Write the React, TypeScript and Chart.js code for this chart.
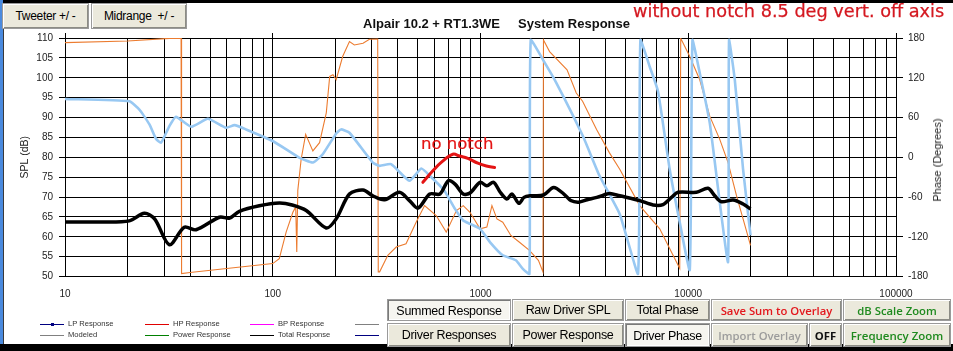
import React, { useEffect, useRef } from 'react';
import { Chart, registerables } from 'chart.js';

Chart.register(...registerables);

// ---------- data ----------
const decadeLabels = [10, 100, 1000, 10000, 100000];
const minorMultipliers = [1, 2, 3, 4, 5, 6, 7, 8, 9];

// Total (summed) response, SPL dB
const totalFreq = [10, 15, 20.4, 24.1, 27, 31.8, 37.5, 42.7, 55.4, 62, 69.1, 86.2, 107.5, 124, 145, 181, 202, 234, 272, 303, 345, 407, 455, 500, 570, 638, 700, 754, 826, 890, 995, 1073, 1155, 1245, 1340, 1418, 1530, 1620, 1740, 2010, 2250, 2520, 2720, 2970, 3260, 3630, 4060, 4190, 4680, 5840, 6770, 7560, 8300, 8930, 10950, 12450, 13420, 14450, 16440, 18360, 19940];
const totalSpl = [63.7, 63.7, 64.0, 65.9, 64.5, 58.0, 62.4, 61.75, 64.9, 64.7, 66.4, 67.8, 68.5, 68.0, 66.6, 62.2, 64.5, 70.75, 71.75, 70.3, 69.3, 71.2, 69.1, 67.2, 70.75, 70.75, 74.1, 73.25, 70.75, 71.0, 73.7, 72.8, 73.7, 71.2, 69.5, 70.75, 68.4, 69.9, 70.3, 70.5, 72.4, 70.75, 69.1, 68.7, 69.3, 69.9, 70.75, 70.9, 70.3, 69.1, 68.0, 68.1, 69.9, 71.2, 71.2, 72.2, 70.3, 68.8, 69.25, 68.25, 67.0];

// Light blue phase trace, degrees
const bluePhaseFreq = [10, 20.4, 22.8, 25.5, 27.4, 29, 31.8, 34.2, 40.5, 48.7, 59.6, 65.5, 74.4, 100, 134, 156, 174, 202, 213, 234, 303, 327, 371, 455, 519, 570, 670, 754, 826, 890, 995, 1110, 1280, 1480, 1595, 1720, 1745, 2000, 2320, 3110, 3740, 4680, 5730, 5885, 6520, 7150, 8140, 9100, 10170, 10480, 11360, 12690, 14180, 15550, 15720, 16750, 18360, 19940];
const bluePhase = [88, 84.5, 72, 49.5, 28, 22, 47, 61, 46, 58, 44.5, 48.5, 42, 24.5, -0.5, -8, 4.5, 36, 42, 37, -8, -13, -10.5, -35.5, -17, -28, -50.5, -78, -95.5, -100.5, -108, -128, -148, -155.5, -168, -176, 177, 147, 112, 32, -28, -86, -176, 177, 137, 99.5, -18, -98, -170, 177, 127, 52, -68, -158, 177, 117, -18, -118];

// Orange phase trace, degrees
const orangePhaseFreq = [10, 20, 31.8, 36.2, 36.4, 40, 60, 100, 107.5, 116, 125, 129, 130.5, 132, 137, 144, 156, 168, 181, 188, 195, 202, 217, 234, 247, 272, 292, 320, 322, 327, 358, 393, 438, 490, 538, 612, 684, 766, 826, 890, 995, 1073, 1135, 1200, 1280, 1400, 1535, 1720, 1900, 1998, 2010, 2150, 2610, 2890, 3100, 3620, 4170, 4680, 5840, 7290, 8450, 9100, 9200, 10170, 11360, 12690, 14180, 15550, 17070, 18360, 19940];
const orangePhase = [173, 175.5, 179.5, 179.8, -175.5, -174, -168, -160.5, -153, -113, -83, -75, -143, -50, -3, 34.5, 9.5, 22, 67, 122, 124.5, 117, 152, 174.5, 169.5, 172, 178, 178.5, -173, -173, -148, -135.5, -130.5, -98, -73, -88, -113, -80.5, -73, -83, -108, -105.5, -73, -93, -98, -118, -128, -140.5, -155.5, -173, 177, 159.5, 132, 97, 84.5, 42, 7, -18, -73, -108, -148, -168, 179.5, 152, 117, 62, 27, -8, -58, -93, -133];

// Hand drawn "no notch" curve, SPL dB
const noNotchFreq = [528, 590, 647, 736, 793, 869, 971, 1067, 1169];
const noNotchSpl = [73.7, 76.6, 78.7, 80.75, 80.3, 79.7, 78.5, 77.8, 77.4];

const splRange = [50, 110];
const splStep = 5;
const phaseRange = [-180, 180];
const phaseStep = 60;

const legendRow1 = [
  { label: 'LP Response', color: '#000080', dot: true },
  { label: 'HP Response', color: '#e00000' },
  { label: 'BP Response', color: '#ff00ff' },
  { label: '', color: '#808080' },
];
const legendRow2 = [
  { label: 'Modeled', color: '#808080' },
  { label: 'Power Response', color: '#008000' },
  { label: 'Total Response', color: '#000000' },
  { label: '', color: '#000080' },
];

// ---------- helpers ----------
const pairs = (xs: number[], ys: number[]) => xs.map((x, i) => ({ x, y: ys[i] }));
const gridValues: number[] = [];
decadeLabels.slice(0, 4).forEach((d) => minorMultipliers.forEach((m) => gridValues.push(d * m)));
gridValues.push(decadeLabels[4]);

const W = 953;
const H = 351;
const PLOT_LEFT = 65;
const PLOT_RIGHT = 896;
const PLOT_TOP = 38;
const PLOT_BOTTOM = 276.5;

const decadeTopTicks = {
  id: 'decadeTopTicks',
  afterDraw(chart: any) {
    const { ctx, chartArea, scales } = chart;
    ctx.save();
    ctx.strokeStyle = '#000';
    ctx.lineWidth = 1;
    decadeLabels.forEach((v) => {
      const px = Math.round(scales.x.getPixelForValue(v) - 0.5) + 0.5;
      ctx.beginPath();
      ctx.moveTo(px, chartArea.top - 5);
      ctx.lineTo(px, chartArea.top);
      ctx.stroke();
    });
    ctx.restore();
  },
};

const btnFont = '"Liberation Sans", Arial, sans-serif';
const uiFont = '"Open Sans", "DejaVu Sans", sans-serif';

function Btn(props: { x: number; y: number; w: number; h: number; text: string; pressed?: boolean; color?: string; font?: string; size?: number; weight?: number; spacing?: number }) {
  const { x, y, w, h, text, pressed, color, font, size, weight, spacing } = props;
  return (
    <div
      style={{
        position: 'absolute',
        left: x,
        top: y,
        width: w,
        height: h,
        boxSizing: 'border-box',
        background: pressed ? '#f6f5f0' : '#ebe9dc',
        border: '1px solid #9a9a9a',
        boxShadow: pressed
          ? 'inset 1px 1px 0 #7a7a7a, inset -1px -1px 0 #ffffff'
          : 'inset 1px 1px 0 #ffffff, inset -1px -1px 0 #8c8c84',
        display: 'flex',
        alignItems: 'center',
        justifyContent: 'center',
        fontFamily: font || btnFont,
        fontSize: size || 12.5,
        fontWeight: weight || 400,
        letterSpacing: spacing ?? -0.3,
        color: color || '#000',
        whiteSpace: 'pre',
        paddingTop: pressed ? 2 : 0,
      }}
    >
      {text}
    </div>
  );
}

function LegendItem(props: { x: number; y: number; label: string; color: string; dot?: boolean }) {
  const { x, y, label, color, dot } = props;
  return (
    <>
      <div style={{ position: 'absolute', left: x, top: y, width: 24, height: 1, background: color }} />
      {dot ? <div style={{ position: 'absolute', left: x + 11, top: y - 1, width: 3, height: 3, background: color }} /> : null}
      {label ? (
        <div
          style={{
            position: 'absolute',
            left: x + 28,
            top: y - 4.5,
            height: 10,
            lineHeight: '10px',
            fontFamily: btnFont,
            fontSize: 7.6,
            color: '#333',
            whiteSpace: 'nowrap',
          }}
        >
          {label}
        </div>
      ) : null}
    </>
  );
}

export default function App() {
  const canvasRef = useRef<HTMLCanvasElement | null>(null);

  useEffect(() => {
    document.body.style.margin = '0';
    const canvas = canvasRef.current;
    if (!canvas) return;
    Chart.defaults.font.family = '"Liberation Sans", Arial, sans-serif';
    const tickFont = { family: '"Liberation Sans", Arial, sans-serif', size: 10 };
    const chart = new Chart(canvas, {
      type: 'line',
      data: {
        datasets: [
          {
            label: 'no notch',
            data: pairs(noNotchFreq, noNotchSpl),
            borderColor: '#e41414',
            borderWidth: 3,
            yAxisID: 'spl',
            tension: 0.4,
            pointRadius: 0,
            borderCapStyle: 'round',
          },
          {
            label: 'Total Response',
            data: pairs(totalFreq, totalSpl),
            borderColor: '#000000',
            borderWidth: 3.5,
            yAxisID: 'spl',
            tension: 0.3,
            pointRadius: 0,
          },
          {
            label: 'Phase 1',
            data: pairs(bluePhaseFreq, bluePhase),
            borderColor: '#98c8f2',
            borderWidth: 2.6,
            yAxisID: 'phase',
            tension: 0.15,
            pointRadius: 0,
          },
          {
            label: 'Phase 2',
            data: pairs(orangePhaseFreq, orangePhase),
            borderColor: '#ec7c30',
            borderWidth: 1.1,
            yAxisID: 'phase',
            tension: 0,
            pointRadius: 0,
          },
        ],
      },
      options: {
        responsive: false,
        animation: false,
        devicePixelRatio: 1,
        layout: { padding: { left: 0, right: 0, top: PLOT_TOP, bottom: 0 } },
        plugins: { legend: { display: false }, tooltip: { enabled: false }, title: { display: false } },
        scales: {
          x: {
            type: 'logarithmic',
            position: 'bottom',
            min: decadeLabels[0],
            max: decadeLabels[decadeLabels.length - 1],
            afterBuildTicks: (s: any) => {
              s.ticks = gridValues.map((v) => ({ value: v }));
            },
            afterFit: (s: any) => {
              s.height = H - PLOT_BOTTOM;
            },
            grid: { color: '#000', lineWidth: 1, drawTicks: false },
            border: { display: false },
            ticks: {
              autoSkip: false,
              maxRotation: 0,
              minRotation: 0,
              padding: 11.5,
              color: '#222',
              font: tickFont,
              callback: (v: any) => (decadeLabels.includes(Number(v)) ? String(v) : ''),
            },
          },
          spl: {
            type: 'linear',
            position: 'left',
            min: splRange[0],
            max: splRange[1],
            afterFit: (s: any) => {
              s.width = PLOT_LEFT;
            },
            ticks: { stepSize: splStep, padding: 6, color: '#222', font: tickFont },
            grid: { color: '#000', lineWidth: 1, tickLength: 6 },
            border: { color: '#000', width: 1 },
            title: {
              display: true,
              text: 'SPL (dB)',
              color: '#222',
              font: { family: '"Liberation Sans", Arial, sans-serif', size: 10.5 },
              padding: { top: 19, bottom: 0 },
            },
          },
          phase: {
            type: 'linear',
            position: 'right',
            min: phaseRange[0],
            max: phaseRange[1],
            afterFit: (s: any) => {
              s.width = W - PLOT_RIGHT;
            },
            ticks: { stepSize: phaseStep, padding: 5, color: '#222', font: tickFont },
            grid: { drawOnChartArea: false, color: '#000', lineWidth: 1, tickLength: 7 },
            border: { color: '#000', width: 1 },
          },
        },
      } as any,
      plugins: [decadeTopTicks],
    });
    return () => chart.destroy();
  }, []);

  return (
    <div style={{ position: 'absolute', left: 0, top: 0, width: W, height: H, overflow: 'hidden', background: '#fff' }}>
      <canvas ref={canvasRef} width={W} height={H} style={{ position: 'absolute', left: 0, top: 0, width: W, height: H }} />

      {/* window frame */}
      <div style={{ position: 'absolute', left: 0, top: 0, width: W, height: 3, background: '#000' }} />
      <div style={{ position: 'absolute', left: 0, top: 0, width: 3, height: H, background: '#4a8ade' }} />
      <div style={{ position: 'absolute', left: 3, top: 3, width: 1, height: H - 10, background: '#3a3a3a' }} />
      <div style={{ position: 'absolute', left: 0, top: 344, width: W, height: 7, background: '#000' }} />

      {/* titles */}
      <div style={{ position: 'absolute', left: 363, top: 17.3, lineHeight: '13px', fontFamily: btnFont, fontWeight: 700, fontSize: 13, color: '#111', whiteSpace: 'nowrap' }}>
        Alpair 10.2 + RT1.3WE
      </div>
      <div style={{ position: 'absolute', left: 518, top: 17.3, lineHeight: '13px', fontFamily: btnFont, fontWeight: 700, fontSize: 13, color: '#111', whiteSpace: 'nowrap' }}>
        System Response
      </div>
      <div style={{ position: 'absolute', left: 633, top: 2.6, lineHeight: '17.7px', fontFamily: '"DejaVu Sans", sans-serif', fontSize: 17.7, color: '#d41820', whiteSpace: 'nowrap', WebkitTextStroke: '0.25px #d41820' }}>
        without notch 8.5 deg vert. off axis
      </div>
      <div style={{ position: 'absolute', left: 421, top: 135.8, lineHeight: '16.5px', fontFamily: '"DejaVu Sans", sans-serif', fontSize: 16.5, color: '#e41414', whiteSpace: 'nowrap', WebkitTextStroke: '0.2px #e41414' }}>
        no notch
      </div>

      {/* right axis title */}
      <div
        style={{
          position: 'absolute',
          left: 936.5,
          top: 160,
          transform: 'translate(-50%, -50%) rotate(-90deg)',
          fontFamily: btnFont,
          fontSize: 11,
          color: '#222',
          whiteSpace: 'nowrap',
          lineHeight: '12px',
        }}
      >
        Phase (Degrees)
      </div>

      {/* top buttons */}
      <Btn x={2} y={3} w={87} h={26} text="Tweeter +/ -" size={12} />
      <Btn x={91} y={3} w={96} h={26} text="Midrange  +/ -" size={12} />

      {/* legend */}
      {legendRow1.map((it, i) => (
        <LegendItem key={'a' + i} x={40 + i * 105} y={323.5} label={it.label} color={it.color} dot={(it as any).dot} />
      ))}
      {legendRow2.map((it, i) => (
        <LegendItem key={'b' + i} x={40 + i * 105} y={334.5} label={it.label} color={it.color} />
      ))}

      {/* bottom buttons */}
      <Btn x={387} y={299} w={124} h={22} text="Summed Response" pressed />
      <Btn x={512} y={299} w={112} h={22} text="Raw Driver SPL" />
      <Btn x={625} y={299} w={85} h={22} text="Total Phase" />
      <Btn x={711} y={299} w={131} h={22} text="Save Sum to Overlay" color="#e3171c" font={uiFont} size={11.3} weight={600} spacing={0} />
      <Btn x={843} y={299} w={108} h={22} text="dB Scale Zoom" color="#1f8a1f" font={uiFont} size={11.3} weight={600} spacing={0} />

      <Btn x={387} y={323} w={124} h={24} text="Driver Responses" />
      <Btn x={512} y={323} w={112} h={24} text="Power Response" />
      <Btn x={625} y={323} w={85} h={24} text="Driver Phase" pressed />
      <Btn x={711} y={323} w={97} h={24} text="Import Overlay" color="#9c9c9c" font={uiFont} size={11.3} weight={600} spacing={0} />
      <Btn x={809} y={323} w={33} h={24} text="OFF" color="#111" font={uiFont} size={11.3} weight={700} spacing={0} />
      <Btn x={843} y={323} w={108} h={24} text="Frequency Zoom" color="#1f8a1f" font={uiFont} size={11.5} weight={600} spacing={0} />
    </div>
  );
}
